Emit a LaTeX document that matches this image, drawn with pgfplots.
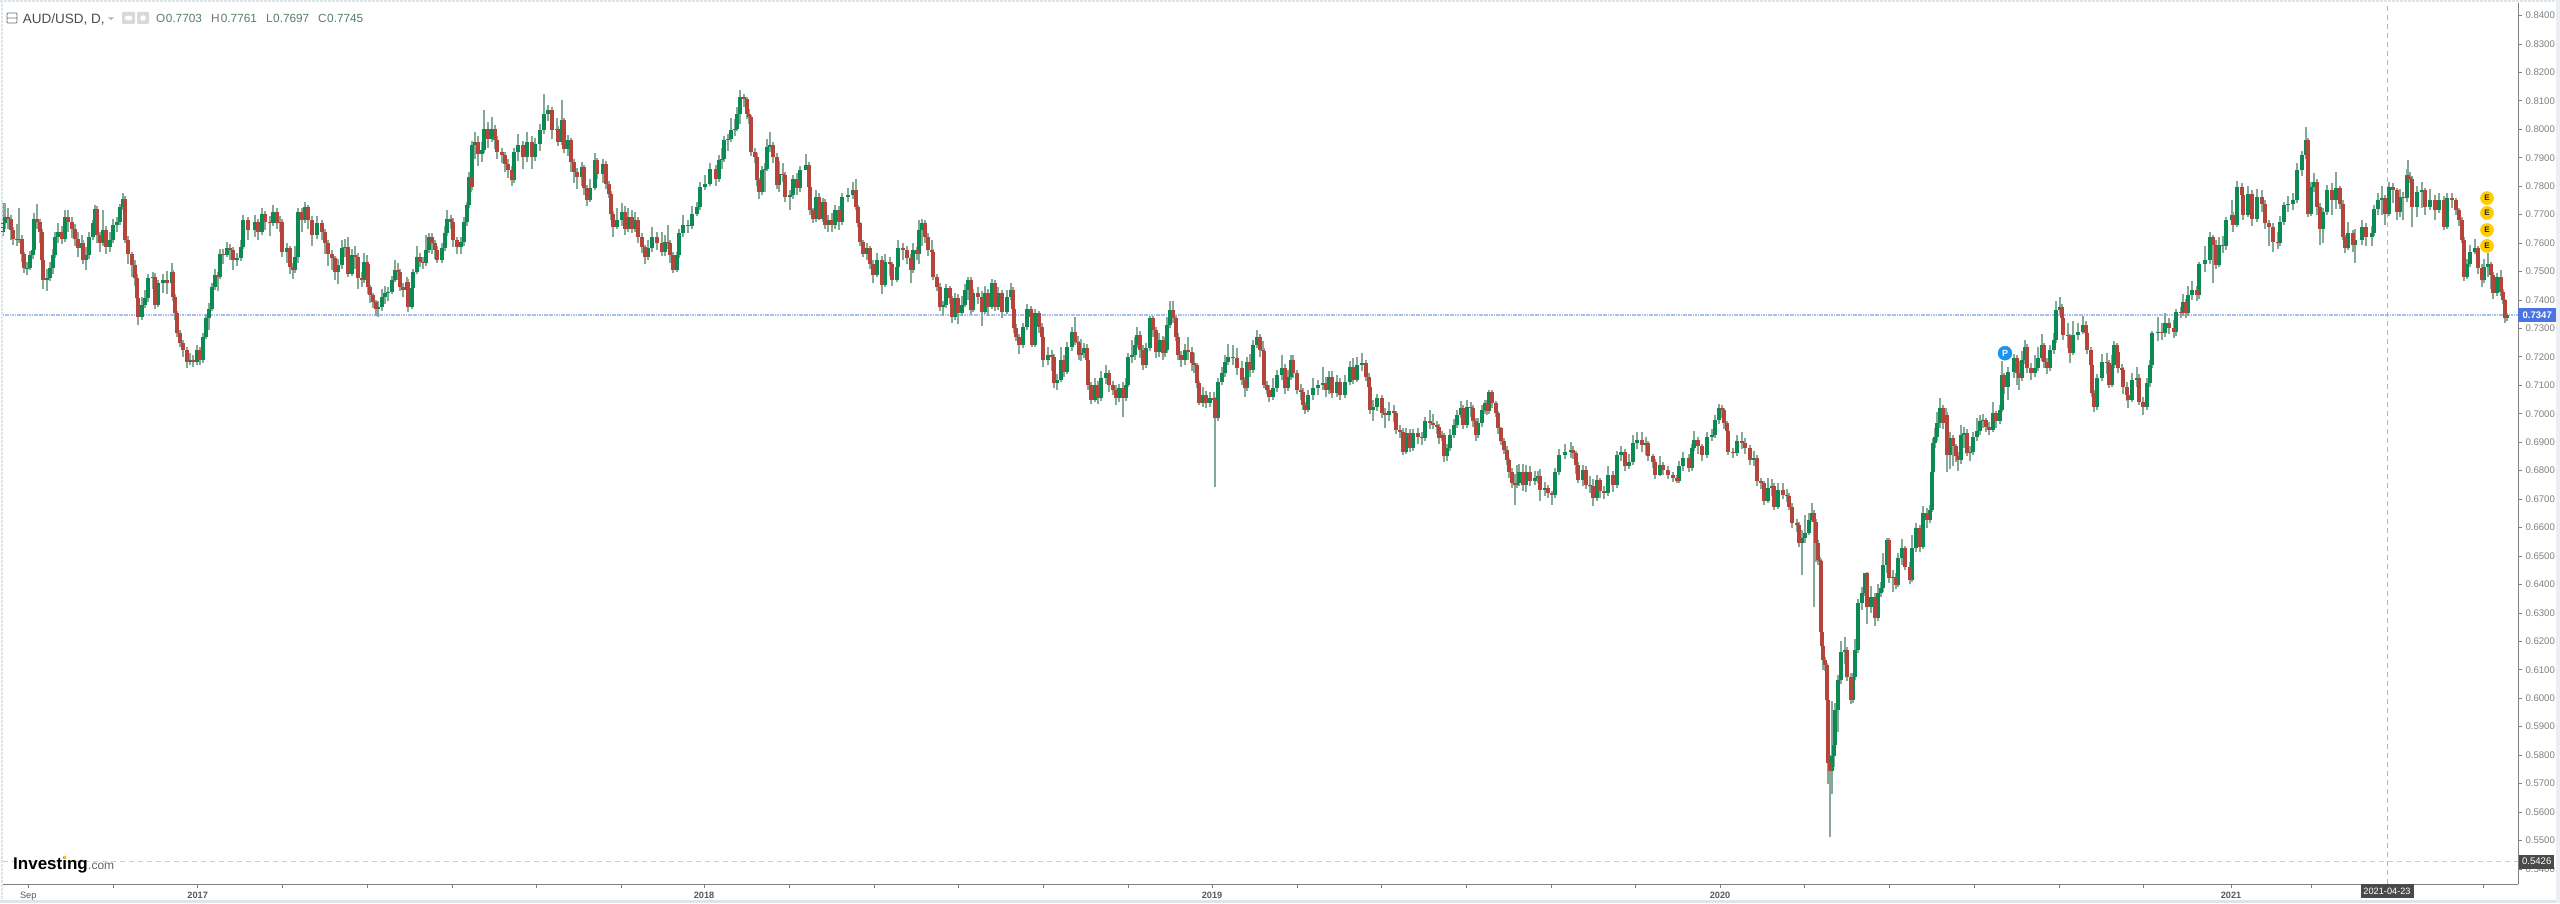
\documentclass[border=0pt]{standalone}
\usepackage{pgfplots}
\usepackage{pgfplotstable}
\pgfplotsset{compat=1.18}
\usepackage{fontspec}
\setmainfont{Liberation Sans}
\definecolor{upc}{HTML}{0B8A54}
\definecolor{dnc}{HTML}{B5443A}
\definecolor{wickc}{HTML}{86A896}
\definecolor{tickg}{HTML}{808080}
\definecolor{axg}{HTML}{808080}
\definecolor{lastb}{HTML}{4A74E2}
\definecolor{lastl}{HTML}{A9BFF0}
\definecolor{crossl}{HTML}{B4B4B4}
\definecolor{crossp}{HTML}{D6C6CE}
\definecolor{boxd}{HTML}{4A4A4A}
\definecolor{valg}{HTML}{4F8068}
\definecolor{frame}{HTML}{DDE4EA}
\definecolor{evt}{HTML}{FFCC00}
\definecolor{pin}{HTML}{1A94F0}
\pgfplotstableread{
x o c h l
3 .7640 .7669 .7740 .7625
5 .7669 .7692 .7740 .7650
8 .7692 .7686 .7722 .7650
11 .7686 .7645 .7700 .7612
13 .7645 .7616 .7655 .7592
17 .7616 .7613 .7668 .7590
19 .7613 .7616 .7722 .7600
22 .7616 .7563 .7628 .7532
24 .7563 .7511 .7570 .7495
27 .7511 .7514 .7532 .7488
30 .7514 .7558 .7572 .7505
33 .7558 .7575 .7610 .7545
34 .7575 .7686 .7706 .7570
37 .7686 .7675 .7737 .7650
40 .7675 .7640 .7685 .7600
42 .7640 .7540 .7650 .7472
43 .7540 .7470 .7560 .7440
47 .7470 .7476 .7510 .7432
50 .7476 .7511 .7535 .7466
53 .7511 .7558 .7580 .7490
55 .7558 .7622 .7640 .7548
58 .7622 .7640 .7672 .7600
62 .7640 .7616 .7660 .7596
65 .7616 .7692 .7715 .7605
68 .7692 .7675 .7716 .7640
72 .7675 .7651 .7690 .7618
75 .7651 .7616 .7668 .7590
78 .7616 .7581 .7640 .7550
82 .7581 .7599 .7628 .7566
83 .7599 .7540 .7612 .7525
86 .7540 .7558 .7585 .7505
89 .7558 .7622 .7640 .7545
93 .7622 .7669 .7680 .7612
95 .7669 .7721 .7733 .7660
97 .7721 .7628 .7730 .7600
100 .7628 .7599 .7640 .7570
103 .7599 .7645 .7716 .7590
106 .7645 .7587 .7660 .7562
110 .7587 .7610 .7640 .7570
113 .7610 .7663 .7685 .7600
117 .7663 .7675 .7690 .7640
120 .7675 .7727 .7738 .7665
123 .7727 .7756 .7776 .7716
125 .7756 .7610 .7765 .7600
128 .7610 .7563 .7625 .7525
132 .7563 .7522 .7570 .7480
135 .7522 .7476 .7540 .7450
137 .7476 .7406 .7490 .7392
138 .7406 .7341 .7415 .7312
142 .7341 .7382 .7410 .7330
145 .7382 .7406 .7435 .7372
148 .7406 .7476 .7490 .7392
153 .7476 .7482 .7500 .7440
155 .7482 .7382 .7495 .7370
158 .7382 .7458 .7470 .7374
163 .7458 .7470 .7492 .7425
167 .7470 .7458 .7502 .7420
172 .7458 .7499 .7530 .7435
173 .7499 .7411 .7505 .7395
175 .7411 .7353 .7420 .7330
177 .7353 .7283 .7362 .7270
180 .7283 .7248 .7295 .7235
183 .7248 .7224 .7260 .7200
187 .7224 .7183 .7235 .7160
190 .7183 .7189 .7215 .7170
193 .7189 .7183 .7205 .7165
197 .7183 .7224 .7240 .7170
200 .7224 .7189 .7235 .7172
203 .7189 .7271 .7285 .7180
206 .7271 .7335 .7352 .7262
209 .7335 .7370 .7388 .7295
212 .7370 .7446 .7460 .7360
215 .7446 .7487 .7510 .7436
218 .7487 .7482 .7500 .7432
220 .7482 .7563 .7578 .7472
223 .7563 .7558 .7580 .7525
227 .7558 .7581 .7605 .7550
230 .7581 .7575 .7596 .7540
233 .7575 .7540 .7585 .7505
237 .7540 .7546 .7565 .7520
241 .7546 .7587 .7610 .7536
243 .7587 .7680 .7700 .7580
248 .7680 .7645 .7690 .7610
255 .7645 .7675 .7698 .7622
258 .7675 .7640 .7685 .7612
262 .7640 .7704 .7722 .7630
265 .7704 .7675 .7712 .7645
270 .7675 .7670 .7695 .7625
273 .7670 .7710 .7735 .7660
277 .7710 .7669 .7722 .7650
280 .7669 .7675 .7695 .7640
282 .7675 .7569 .7685 .7550
287 .7569 .7581 .7600 .7530
290 .7581 .7517 .7590 .7490
293 .7517 .7505 .7530 .7475
295 .7505 .7552 .7590 .7495
298 .7552 .7710 .7722 .7530
302 .7710 .7680 .7722 .7640
305 .7680 .7727 .7745 .7670
308 .7727 .7680 .7735 .7650
312 .7680 .7628 .7695 .7590
317 .7628 .7669 .7695 .7615
322 .7669 .7640 .7680 .7610
325 .7640 .7599 .7650 .7560
328 .7599 .7563 .7612 .7520
332 .7563 .7546 .7575 .7505
335 .7546 .7499 .7555 .7470
338 .7499 .7522 .7545 .7455
342 .7522 .7581 .7610 .7510
345 .7581 .7585 .7615 .7550
348 .7585 .7493 .7620 .7480
352 .7493 .7558 .7580 .7485
355 .7558 .7552 .7590 .7510
358 .7552 .7476 .7565 .7440
362 .7476 .7470 .7500 .7445
364 .7470 .7534 .7565 .7460
367 .7534 .7528 .7558 .7500
368 .7528 .7446 .7535 .7420
370 .7446 .7417 .7452 .7390
373 .7417 .7394 .7425 .7372
376 .7394 .7370 .7400 .7345
378 .7370 .7375 .7395 .7340
382 .7375 .7411 .7440 .7360
385 .7411 .7423 .7450 .7385
388 .7423 .7429 .7445 .7395
392 .7429 .7470 .7485 .7420
395 .7470 .7505 .7540 .7462
398 .7505 .7499 .7530 .7470
400 .7499 .7446 .7510 .7430
403 .7446 .7435 .7460 .7410
407 .7435 .7464 .7480 .7400
408 .7464 .7376 .7475 .7358
412 .7376 .7441 .7460 .7368
413 .7441 .7499 .7510 .7432
417 .7499 .7552 .7590 .7490
420 .7552 .7534 .7565 .7515
423 .7534 .7530 .7552 .7510
426 .7530 .7575 .7628 .7520
429 .7575 .7622 .7635 .7565
432 .7622 .7599 .7635 .7560
435 .7599 .7575 .7610 .7545
437 .7575 .7540 .7590 .7530
442 .7540 .7581 .7600 .7530
445 .7581 .7634 .7660 .7572
447 .7634 .7686 .7715 .7625
451 .7686 .7675 .7700 .7650
453 .7675 .7610 .7688 .7585
457 .7610 .7587 .7622 .7560
461 .7587 .7604 .7620 .7560
464 .7604 .7675 .7690 .7590
467 .7675 .7733 .7745 .7660
469 .7733 .7833 .7850 .7725
471 .7833 .7797 .7848 .7780
472 .7797 .7944 .7960 .7785
475 .7944 .7955 .7990 .7895
478 .7955 .7914 .7975 .7870
482 .7914 .7926 .7955 .7885
484 .7926 .8002 .8069 .7915
488 .8002 .7967 .8025 .7935
492 .7967 .8002 .8043 .7955
495 .8002 .7961 .8015 .7930
497 .7961 .7920 .7975 .7895
502 .7920 .7909 .7935 .7880
505 .7909 .7879 .7920 .7850
508 .7879 .7856 .7895 .7830
512 .7856 .7821 .7870 .7800
514 .7821 .7920 .7935 .7810
518 .7920 .7944 .7985 .7890
523 .7944 .7903 .7960 .7860
527 .7903 .7955 .7990 .7885
532 .7955 .7903 .7975 .7860
535 .7903 .7950 .7970 .7890
540 .7950 .7996 .8020 .7925
544 .7996 .8055 .8125 .7985
548 .8055 .8067 .8085 .8030
552 .8067 .7996 .8078 .7965
557 .7996 .8002 .8040 .7960
558 .8002 .7955 .8010 .7940
562 .7955 .8031 .8102 .7945
564 .8031 .7932 .8040 .7915
568 .7932 .7961 .7980 .7905
571 .7961 .7885 .7970 .7850
574 .7885 .7850 .7895 .7810
577 .7850 .7833 .7865 .7790
582 .7833 .7868 .7885 .7800
584 .7868 .7792 .7875 .7770
587 .7792 .7751 .7805 .7730
590 .7751 .7792 .7825 .7745
595 .7792 .7891 .7915 .7785
597 .7891 .7844 .7900 .7825
603 .7844 .7879 .7895 .7810
606 .7879 .7809 .7888 .7790
609 .7809 .7774 .7820 .7760
611 .7774 .7704 .7782 .7680
613 .7704 .7657 .7712 .7620
617 .7657 .7680 .7725 .7650
622 .7680 .7710 .7740 .7660
625 .7710 .7651 .7730 .7630
628 .7651 .7692 .7725 .7640
632 .7692 .7651 .7715 .7635
635 .7651 .7680 .7710 .7640
638 .7680 .7622 .7690 .7600
642 .7622 .7587 .7635 .7565
645 .7587 .7552 .7595 .7525
648 .7552 .7581 .7610 .7540
652 .7581 .7622 .7655 .7570
657 .7622 .7599 .7640 .7575
662 .7599 .7569 .7640 .7555
665 .7569 .7604 .7630 .7555
668 .7604 .7599 .7665 .7580
670 .7599 .7558 .7610 .7530
673 .7558 .7505 .7570 .7495
677 .7505 .7558 .7570 .7498
679 .7558 .7634 .7650 .7548
683 .7634 .7663 .7700 .7620
688 .7663 .7659 .7680 .7635
692 .7659 .7704 .7730 .7650
697 .7704 .7727 .7745 .7695
700 .7727 .7797 .7815 .7715
705 .7797 .7809 .7840 .7785
710 .7809 .7862 .7880 .7800
716 .7862 .7827 .7875 .7800
719 .7827 .7891 .7910 .7815
722 .7891 .7897 .7935 .7860
724 .7897 .7961 .7975 .7885
728 .7961 .7967 .7985 .7925
731 .7967 .7996 .8040 .7955
735 .7996 .8002 .8035 .7975
737 .8002 .8055 .8080 .7995
740 .8055 .8113 .8137 .8020
744 .8113 .8108 .8125 .8080
747 .8108 .8055 .8115 .8035
749 .8055 .8043 .8070 .8020
751 .8043 .7920 .8050 .7905
755 .7920 .7903 .7935 .7880
757 .7903 .7821 .7915 .7800
759 .7821 .7780 .7830 .7755
762 .7780 .7856 .7870 .7770
765 .7856 .7862 .7880 .7780
767 .7862 .7938 .7965 .7855
770 .7938 .7944 .7990 .7920
773 .7944 .7903 .7955 .7880
777 .7903 .7803 .7915 .7790
779 .7803 .7844 .7890 .7780
783 .7844 .7840 .7880 .7815
785 .7840 .7762 .7850 .7745
790 .7762 .7768 .7785 .7715
793 .7768 .7827 .7840 .7755
797 .7827 .7792 .7845 .7770
800 .7792 .7856 .7872 .7780
806 .7856 .7874 .7914 .7860
809 .7874 .7797 .7885 .7780
810 .7797 .7716 .7805 .7700
813 .7716 .7686 .7725 .7672
816 .7686 .7762 .7785 .7675
819 .7762 .7686 .7775 .7680
823 .7686 .7745 .7760 .7675
825 .7745 .7663 .7755 .7650
828 .7663 .7680 .7700 .7640
832 .7680 .7663 .7705 .7640
835 .7663 .7716 .7735 .7650
839 .7716 .7675 .7730 .7645
842 .7675 .7762 .7775 .7665
848 .7762 .7768 .7795 .7745
853 .7768 .7786 .7815 .7755
856 .7786 .7727 .7825 .7715
858 .7727 .7669 .7735 .7655
860 .7669 .7604 .7675 .7590
863 .7604 .7563 .7610 .7550
867 .7563 .7581 .7600 .7540
870 .7581 .7528 .7590 .7510
873 .7528 .7487 .7540 .7460
877 .7487 .7540 .7565 .7480
882 .7540 .7452 .7555 .7420
885 .7452 .7534 .7560 .7445
890 .7534 .7528 .7550 .7485
892 .7528 .7470 .7535 .7450
897 .7470 .7517 .7535 .7462
898 .7517 .7581 .7610 .7510
903 .7581 .7575 .7600 .7540
907 .7575 .7546 .7590 .7525
911 .7546 .7505 .7560 .7460
913 .7505 .7575 .7600 .7495
917 .7575 .7563 .7585 .7540
919 .7563 .7645 .7680 .7525
922 .7645 .7669 .7685 .7590
925 .7669 .7622 .7680 .7600
928 .7622 .7575 .7635 .7555
932 .7575 .7570 .7610 .7540
933 .7570 .7482 .7580 .7470
937 .7482 .7446 .7490 .7430
940 .7446 .7376 .7460 .7360
943 .7376 .7381 .7398 .7345
946 .7381 .7441 .7455 .7372
950 .7441 .7406 .7450 .7385
952 .7406 .7341 .7415 .7320
955 .7341 .7406 .7425 .7330
958 .7406 .7353 .7420 .7315
962 .7353 .7382 .7415 .7345
965 .7382 .7435 .7455 .7375
968 .7435 .7470 .7480 .7400
971 .7470 .7365 .7480 .7350
973 .7365 .7423 .7440 .7358
978 .7423 .7411 .7445 .7385
982 .7411 .7359 .7430 .7310
985 .7359 .7423 .7450 .7350
988 .7423 .7376 .7440 .7345
992 .7376 .7458 .7475 .7368
995 .7458 .7376 .7470 .7360
998 .7376 .7423 .7445 .7365
1002 .7423 .7359 .7435 .7335
1007 .7359 .7411 .7435 .7350
1011 .7411 .7435 .7458 .7400
1013 .7435 .7370 .7445 .7355
1014 .7370 .7300 .7378 .7285
1016 .7300 .7271 .7315 .7255
1019 .7271 .7242 .7282 .7210
1023 .7242 .7306 .7320 .7232
1027 .7306 .7370 .7385 .7295
1031 .7370 .7341 .7378 .7315
1032 .7341 .7242 .7350 .7235
1035 .7242 .7353 .7368 .7235
1039 .7353 .7306 .7362 .7285
1042 .7306 .7271 .7320 .7250
1043 .7271 .7189 .7280 .7165
1048 .7189 .7207 .7235 .7170
1052 .7207 .7201 .7225 .7150
1054 .7201 .7107 .7210 .7090
1057 .7107 .7119 .7140 .7085
1061 .7119 .7189 .7235 .7110
1064 .7189 .7148 .7205 .7130
1067 .7148 .7236 .7252 .7140
1072 .7236 .7289 .7305 .7220
1075 .7289 .7253 .7340 .7240
1078 .7253 .7248 .7275 .7215
1079 .7248 .7207 .7255 .7190
1081 .7207 .7215 .7262 .7185
1084 .7215 .7230 .7250 .7195
1087 .7230 .7189 .7245 .7170
1088 .7189 .7101 .7195 .7085
1091 .7101 .7049 .7110 .7035
1095 .7049 .7101 .7125 .7040
1098 .7101 .7055 .7115 .7035
1101 .7055 .7125 .7150 .7045
1106 .7125 .7142 .7170 .7105
1109 .7142 .7101 .7155 .7075
1113 .7101 .7084 .7115 .7065
1116 .7084 .7055 .7100 .7030
1119 .7055 .7090 .7105 .7040
1123 .7090 .7055 .7110 .6990
1126 .7055 .7101 .7125 .7045
1128 .7101 .7201 .7215 .7095
1132 .7201 .7207 .7260 .7180
1135 .7207 .7242 .7270 .7190
1137 .7242 .7277 .7305 .7230
1140 .7277 .7224 .7290 .7195
1143 .7224 .7171 .7240 .7155
1146 .7171 .7230 .7250 .7160
1150 .7230 .7335 .7345 .7220
1153 .7335 .7294 .7345 .7270
1156 .7294 .7218 .7305 .7195
1159 .7218 .7259 .7285 .7200
1163 .7259 .7212 .7275 .7190
1165 .7212 .7224 .7270 .7200
1167 .7224 .7312 .7340 .7215
1170 .7312 .7365 .7397 .7300
1173 .7365 .7335 .7397 .7320
1176 .7335 .7271 .7345 .7255
1178 .7271 .7207 .7285 .7190
1181 .7207 .7189 .7220 .7165
1185 .7189 .7224 .7245 .7170
1188 .7224 .7218 .7270 .7190
1192 .7218 .7177 .7235 .7150
1194 .7177 .7172 .7215 .7145
1197 .7172 .7107 .7180 .7090
1199 .7107 .7037 .7115 .7030
1203 .7037 .7066 .7095 .7025
1206 .7066 .7037 .7080 .7020
1210 .7037 .7055 .7075 .7025
1214 .7055 .7050 .7075 .6985
1215 .7050 .6984 .7060 .6744
1218 .6984 .7113 .7125 .6975
1222 .7113 .7142 .7165 .7100
1225 .7142 .7183 .7205 .7130
1228 .7183 .7201 .7245 .7170
1233 .7201 .7196 .7240 .7170
1237 .7196 .7160 .7230 .7135
1242 .7160 .7119 .7185 .7100
1245 .7119 .7090 .7130 .7060
1247 .7090 .7183 .7200 .7080
1250 .7183 .7154 .7210 .7130
1253 .7154 .7242 .7260 .7145
1257 .7242 .7271 .7295 .7230
1260 .7271 .7224 .7280 .7200
1263 .7224 .7220 .7255 .7200
1264 .7220 .7101 .7230 .7090
1267 .7101 .7084 .7115 .7070
1269 .7084 .7060 .7100 .7040
1273 .7060 .7090 .7125 .7050
1277 .7090 .7136 .7155 .7075
1282 .7136 .7160 .7205 .7120
1285 .7160 .7090 .7175 .7070
1288 .7090 .7131 .7155 .7080
1291 .7131 .7189 .7205 .7120
1293 .7189 .7142 .7205 .7125
1297 .7142 .7084 .7155 .7070
1301 .7084 .7078 .7105 .7050
1303 .7078 .7031 .7090 .7015
1305 .7031 .7014 .7040 .7000
1308 .7014 .7066 .7085 .7005
1313 .7066 .7090 .7125 .7050
1318 .7090 .7101 .7120 .7065
1323 .7101 .7107 .7165 .7085
1326 .7107 .7084 .7130 .7060
1329 .7084 .7131 .7150 .7070
1332 .7131 .7072 .7150 .7055
1337 .7072 .7113 .7135 .7060
1340 .7113 .7066 .7125 .7050
1345 .7066 .7113 .7135 .7055
1350 .7113 .7166 .7185 .7100
1353 .7166 .7119 .7195 .7105
1357 .7119 .7171 .7200 .7110
1362 .7171 .7177 .7215 .7150
1366 .7177 .7131 .7190 .7115
1369 .7131 .7095 .7145 .7065
1370 .7095 .7014 .7105 .7000
1373 .7014 .7025 .7050 .6975
1377 .7025 .7055 .7070 .7010
1382 .7055 .7002 .7065 .6985
1385 .7002 .6996 .7020 .6950
1389 .6996 .7008 .7040 .6975
1394 .7008 .7002 .7030 .6970
1396 .7002 .6943 .7010 .6930
1400 .6943 .6937 .6960 .6915
1403 .6937 .6867 .6950 .6855
1406 .6867 .6932 .6950 .6860
1410 .6932 .6879 .6945 .6865
1413 .6879 .6932 .6945 .6870
1418 .6932 .6920 .6950 .6895
1422 .6920 .6915 .6935 .6890
1425 .6915 .6973 .6990 .6905
1430 .6973 .6968 .7015 .6945
1433 .6968 .6962 .7000 .6945
1437 .6962 .6955 .6975 .6930
1439 .6955 .6914 .6965 .6895
1442 .6914 .6924 .6940 .6905
1444 .6924 .6850 .6932 .6830
1447 .6850 .6879 .6895 .6835
1450 .6879 .6926 .6945 .6870
1454 .6926 .6961 .6980 .6915
1457 .6961 .6996 .7015 .6950
1461 .6996 .7020 .7045 .6985
1463 .7020 .6961 .7030 .6945
1467 .6961 .7025 .7050 .6950
1471 .7025 .7020 .7040 .6990
1473 .7020 .6973 .7032 .6955
1476 .6973 .6926 .6985 .6905
1478 .6926 .6967 .6985 .6915
1482 .6967 .7014 .7030 .6955
1485 .7014 .7037 .7050 .7000
1487 .7037 .7008 .7050 .6995
1489 .7008 .7078 .7085 .7000
1492 .7078 .7037 .7085 .7020
1496 .7037 .7002 .7045 .6990
1498 .7002 .6949 .7010 .6930
1501 .6949 .6903 .6955 .6890
1504 .6903 .6873 .6915 .6860
1507 .6873 .6838 .6885 .6820
1509 .6838 .6797 .6845 .6775
1512 .6797 .6756 .6810 .6740
1515 .6756 .6750 .6790 .6680
1517 .6750 .6755 .6820 .6740
1519 .6755 .6797 .6825 .6745
1523 .6797 .6750 .6825 .6730
1526 .6750 .6797 .6820 .6725
1530 .6797 .6762 .6815 .6745
1535 .6762 .6774 .6800 .6750
1538 .6774 .6780 .6800 .6755
1540 .6780 .6733 .6805 .6692
1545 .6733 .6738 .6760 .6710
1548 .6738 .6721 .6750 .6705
1552 .6721 .6715 .6730 .6680
1555 .6715 .6797 .6810 .6705
1559 .6797 .6856 .6875 .6785
1565 .6856 .6867 .6895 .6840
1571 .6867 .6873 .6900 .6845
1573 .6873 .6862 .6885 .6840
1576 .6862 .6821 .6870 .6790
1578 .6821 .6768 .6830 .6755
1583 .6768 .6803 .6820 .6745
1586 .6803 .6750 .6815 .6735
1590 .6750 .6745 .6780 .6720
1593 .6745 .6704 .6770 .6675
1597 .6704 .6768 .6785 .6695
1600 .6768 .6727 .6775 .6705
1604 .6727 .6722 .6745 .6700
1608 .6722 .6786 .6815 .6710
1613 .6786 .6750 .6800 .6725
1617 .6750 .6856 .6870 .6740
1621 .6856 .6867 .6885 .6835
1625 .6867 .6815 .6875 .6800
1629 .6815 .6832 .6860 .6805
1633 .6832 .6897 .6925 .6820
1637 .6897 .6908 .6935 .6875
1642 .6908 .6891 .6935 .6865
1646 .6891 .6897 .6920 .6855
1648 .6897 .6850 .6905 .6835
1653 .6850 .6832 .6860 .6810
1655 .6832 .6786 .6840 .6770
1660 .6786 .6821 .6850 .6780
1663 .6821 .6803 .6830 .6785
1668 .6803 .6786 .6815 .6770
1673 .6786 .6774 .6795 .6760
1677 .6774 .6762 .6785 .6755
1679 .6762 .6815 .6835 .6755
1683 .6815 .6844 .6865 .6800
1689 .6844 .6809 .6860 .6795
1692 .6809 .6879 .6895 .6800
1694 .6879 .6908 .6940 .6870
1698 .6908 .6885 .6920 .6860
1702 .6885 .6856 .6895 .6835
1707 .6856 .6920 .6935 .6845
1712 .6920 .6926 .6945 .6905
1715 .6926 .6979 .6995 .6915
1719 .6979 .7020 .7035 .6965
1722 .7020 .7014 .7030 .6985
1724 .7014 .6967 .7022 .6945
1727 .6967 .6938 .6975 .6915
1728 .6938 .6867 .6945 .6855
1733 .6867 .6861 .6880 .6845
1737 .6861 .6903 .6925 .6850
1742 .6903 .6898 .6935 .6875
1745 .6898 .6879 .6915 .6860
1750 .6879 .6838 .6890 .6820
1754 .6838 .6844 .6870 .6815
1757 .6844 .6762 .6855 .6745
1761 .6762 .6756 .6775 .6735
1764 .6756 .6692 .6765 .6680
1768 .6692 .6739 .6775 .6685
1772 .6739 .6745 .6770 .6710
1774 .6745 .6674 .6755 .6660
1778 .6674 .6733 .6755 .6665
1783 .6733 .6715 .6755 .6700
1787 .6715 .6710 .6735 .6690
1789 .6710 .6674 .6720 .6660
1792 .6674 .6616 .6685 .6600
1797 .6616 .6610 .6630 .6585
1799 .6610 .6546 .6620 .6530
1802 .6546 .6562 .6590 .6433
1805 .6562 .6580 .6645 .6545
1809 .6580 .6626 .6650 .6575
1812 .6626 .6650 .6685 .6620
1814 .6650 .6620 .6660 .6322
1816 .6620 .6544 .6630 .6480
1818 .6544 .6486 .6555 .6470
1820 .6486 .6482 .6495 .6350
1821 .6482 .6234 .6490 .6215
1822 .6234 .6182 .6320 .6165
1823 .6182 .6135 .6195 .6100
1825 .6135 .6117 .6145 .6095
1827 .6117 .5994 .6125 .5965
1828 .5994 .5772 .6000 .5700
1830 .5772 .5743 .5800 .5513
1832 .5743 .5796 .5990 .5665
1834 .5796 .5837 .5850 .5760
1835 .5837 .5959 .5985 .5830
1838 .5959 .6065 .6080 .5880
1841 .6065 .6164 .6200 .6050
1845 .6164 .6170 .6215 .6120
1847 .6170 .6076 .6180 .6060
1851 .6076 .5994 .6090 .5980
1853 .5994 .6076 .6090 .5985
1855 .6076 .6170 .6210 .6065
1858 .6170 .6334 .6350 .6160
1862 .6334 .6369 .6390 .6310
1865 .6369 .6439 .6442 .6360
1867 .6439 .6322 .6445 .6260
1871 .6322 .6357 .6395 .6300
1875 .6357 .6281 .6370 .6255
1878 .6281 .6369 .6400 .6270
1881 .6369 .6386 .6410 .6355
1883 .6386 .6468 .6510 .6375
1887 .6468 .6556 .6565 .6440
1889 .6556 .6422 .6565 .6405
1893 .6422 .6427 .6450 .6375
1896 .6427 .6398 .6440 .6385
1898 .6398 .6492 .6510 .6390
1902 .6492 .6527 .6560 .6470
1905 .6527 .6463 .6535 .6450
1910 .6463 .6416 .6480 .6400
1912 .6416 .6527 .6575 .6410
1916 .6527 .6597 .6615 .6515
1920 .6597 .6533 .6610 .6515
1923 .6533 .6650 .6675 .6525
1927 .6650 .6626 .6670 .6600
1930 .6626 .6661 .6680 .6615
1932 .6661 .6796 .6810 .6655
1933 .6796 .6897 .6915 .6785
1935 .6897 .6920 .6950 .6880
1937 .6920 .6967 .7005 .6905
1940 .6967 .7019 .7055 .6950
1943 .7019 .6967 .7030 .6945
1946 .6967 .6996 .7020 .6940
1947 .6996 .6856 .7005 .6795
1950 .6856 .6914 .6935 .6805
1953 .6914 .6885 .6925 .6815
1956 .6885 .6850 .6895 .6830
1958 .6850 .6838 .6865 .6800
1961 .6838 .6926 .6960 .6825
1964 .6926 .6932 .6955 .6880
1967 .6932 .6861 .6945 .6850
1970 .6861 .6867 .6885 .6835
1973 .6867 .6920 .6935 .6855
1977 .6920 .6938 .6985 .6905
1980 .6938 .6973 .6995 .6925
1983 .6973 .6978 .7000 .6950
1986 .6978 .6955 .6985 .6935
1989 .6955 .6943 .6970 .6925
1993 .6943 .7002 .7040 .6935
1996 .7002 .6973 .7010 .6950
2000 .6973 .7014 .7030 .6965
2002 .7014 .7136 .7185 .7005
2004 .7136 .7095 .7145 .7070
2008 .7095 .7148 .7165 .7050
2014 .7148 .7195 .7210 .7125
2017 .7195 .7142 .7205 .7100
2019 .7142 .7125 .7185 .7085
2022 .7125 .7189 .7220 .7115
2025 .7189 .7236 .7260 .7175
2027 .7236 .7160 .7245 .7145
2031 .7160 .7142 .7180 .7120
2035 .7142 .7160 .7205 .7130
2038 .7160 .7195 .7235 .7150
2042 .7195 .7242 .7280 .7185
2044 .7242 .7183 .7250 .7160
2047 .7183 .7160 .7195 .7140
2050 .7160 .7224 .7240 .7150
2054 .7224 .7259 .7285 .7210
2056 .7259 .7365 .7395 .7250
2060 .7365 .7376 .7410 .7350
2062 .7376 .7335 .7385 .7300
2063 .7335 .7277 .7342 .7260
2068 .7277 .7272 .7320 .7230
2070 .7272 .7212 .7280 .7180
2073 .7212 .7277 .7325 .7205
2078 .7277 .7288 .7320 .7260
2083 .7288 .7312 .7345 .7280
2086 .7312 .7283 .7325 .7270
2087 .7283 .7224 .7292 .7210
2091 .7224 .7172 .7235 .7155
2092 .7172 .7072 .7180 .7060
2094 .7072 .7025 .7085 .7005
2097 .7025 .7125 .7140 .7015
2102 .7125 .7183 .7210 .7115
2107 .7183 .7177 .7215 .7140
2109 .7177 .7101 .7190 .7090
2112 .7101 .7172 .7205 .7095
2114 .7172 .7242 .7255 .7160
2117 .7242 .7218 .7250 .7200
2118 .7218 .7160 .7225 .7145
2122 .7160 .7155 .7175 .7130
2123 .7155 .7095 .7165 .7070
2127 .7095 .7066 .7110 .7045
2128 .7066 .7049 .7080 .7020
2132 .7049 .7119 .7145 .7040
2137 .7119 .7125 .7165 .7095
2139 .7125 .7043 .7140 .7030
2143 .7043 .7025 .7060 .6995
2147 .7025 .7107 .7125 .7015
2150 .7107 .7172 .7190 .7095
2152 .7172 .7283 .7290 .7160
2158 .7283 .7288 .7340 .7255
2162 .7288 .7283 .7320 .7260
2165 .7283 .7318 .7355 .7270
2169 .7318 .7300 .7335 .7280
2174 .7300 .7289 .7330 .7265
2176 .7289 .7359 .7370 .7275
2181 .7359 .7354 .7375 .7335
2183 .7354 .7394 .7420 .7345
2186 .7394 .7353 .7405 .7335
2188 .7353 .7417 .7450 .7345
2192 .7417 .7435 .7465 .7400
2197 .7435 .7417 .7450 .7395
2199 .7417 .7528 .7535 .7405
2205 .7528 .7540 .7590 .7500
2210 .7540 .7622 .7640 .7525
2213 .7622 .7593 .7630 .7460
2216 .7593 .7523 .7610 .7510
2219 .7523 .7593 .7620 .7515
2223 .7593 .7588 .7625 .7565
2226 .7588 .7680 .7690 .7575
2232 .7680 .7698 .7750 .7670
2233 .7698 .7663 .7710 .7640
2237 .7663 .7797 .7820 .7655
2242 .7797 .7768 .7810 .7740
2243 .7768 .7698 .7775 .7680
2248 .7698 .7774 .7800 .7690
2252 .7774 .7686 .7785 .7660
2257 .7686 .7762 .7790 .7675
2262 .7762 .7739 .7785 .7710
2265 .7739 .7669 .7750 .7650
2269 .7669 .7657 .7680 .7590
2273 .7657 .7604 .7670 .7570
2278 .7604 .7599 .7640 .7580
2280 .7599 .7675 .7695 .7590
2284 .7675 .7733 .7745 .7665
2288 .7733 .7739 .7765 .7710
2293 .7739 .7751 .7775 .7715
2297 .7751 .7856 .7880 .7740
2302 .7856 .7909 .7925 .7835
2306 .7909 .7961 .8008 .7895
2308 .7961 .7704 .7970 .7690
2311 .7704 .7797 .7815 .7695
2314 .7797 .7815 .7845 .7780
2317 .7815 .7727 .7825 .7700
2320 .7727 .7651 .7740 .7595
2323 .7651 .7710 .7725 .7600
2327 .7710 .7786 .7805 .7700
2332 .7786 .7751 .7810 .7700
2336 .7751 .7792 .7850 .7720
2340 .7792 .7739 .7800 .7720
2343 .7739 .7622 .7750 .7610
2345 .7622 .7581 .7630 .7565
2348 .7581 .7634 .7675 .7575
2353 .7634 .7593 .7645 .7570
2355 .7593 .7610 .7650 .7531
2362 .7610 .7657 .7680 .7595
2366 .7657 .7622 .7670 .7590
2372 .7622 .7634 .7660 .7590
2374 .7634 .7721 .7735 .7625
2378 .7721 .7751 .7775 .7700
2382 .7751 .7757 .7800 .7700
2385 .7757 .7704 .7770 .7665
2389 .7704 .7797 .7815 .7695
2393 .7797 .7786 .7810 .7740
2397 .7786 .7710 .7795 .7680
2400 .7710 .7762 .7790 .7690
2403 .7762 .7757 .7780 .7680
2407 .7757 .7838 .7860 .7745
2408 .7838 .7833 .7891 .7815
2410 .7833 .7825 .7850 .7810
2412 .7825 .7727 .7835 .7655
2417 .7727 .7780 .7800 .7690
2422 .7780 .7786 .7815 .7725
2425 .7786 .7727 .7795 .7700
2430 .7727 .7751 .7790 .7715
2435 .7751 .7716 .7770 .7680
2439 .7716 .7751 .7775 .7705
2444 .7751 .7657 .7765 .7645
2447 .7657 .7757 .7775 .7650
2452 .7757 .7751 .7775 .7725
2456 .7751 .7716 .7760 .7700
2459 .7716 .7680 .7725 .7660
2462 .7680 .7610 .7690 .7600
2464 .7610 .7482 .7620 .7465
2467 .7482 .7528 .7545 .7475
2470 .7528 .7569 .7595 .7515
2475 .7569 .7581 .7615 .7560
2478 .7581 .7511 .7590 .7490
2482 .7511 .7470 .7525 .7445
2484 .7470 .7517 .7545 .7460
2488 .7517 .7528 .7564 .7480
2491 .7528 .7487 .7535 .7440
2493 .7487 .7423 .7500 .7405
2497 .7423 .7482 .7495 .7415
2501 .7482 .7429 .7505 .7415
2503 .7429 .7400 .7440 .7385
2505 .7400 .7335 .7405 .7320
2507 .7335 .7347 .7355 .7325
}\data
\begin{document}
\begin{tikzpicture}[x=1pt,y=1pt]
\useasboundingbox (0,0) rectangle (2560,903);
\fill[white] (0,0) rectangle (2560,903);
\begin{axis}[
 at={(3pt,19pt)},anchor=south west,scale only axis,width=2515pt,height=881pt,
 xmin=3,xmax=2518,ymin=.5347,ymax=.8444,clip=false,
 axis x line*=bottom,axis y line*=right,
 axis line style={draw=axg,line width=0.9pt,-},
 xtick={28.2,113,197.7,282.5,367.2,452,536.7,621.5,704,789,874,958.5,1043,1128,1212,1297,1381,1466,1551,1635,1720,1804.5,1889,1974,2059,2143.5,2231,2311,2397,2483},
 xticklabels={Sep,,{\bfseries 2017},,,,,,{\bfseries 2018},,,,,,{\bfseries 2019},,,,,,{\bfseries 2020},,,,,,{\bfseries 2021},,,},
 ytick={.54,.55,.56,.57,.58,.59,.60,.61,.62,.63,.64,.65,.66,.67,.68,.69,.70,.71,.72,.73,.74,.75,.76,.77,.78,.79,.80,.81,.82,.83,.84},
 yticklabel style={/pgf/number format/fixed,/pgf/number format/fixed zerofill,/pgf/number format/precision=4,/pgf/number format/assume math mode=true,font=\fontsize{9.6}{10}\selectfont,text=tickg,anchor=west,xshift=0pt},
 xticklabel style={font=\fontsize{9.2}{10}\selectfont,text=black!65,yshift=-0.5pt},
 tick style={draw=axg,line width=0.8pt},major tick length=4pt,
 tick align=outside,
]
\addplot[draw=lastl,line width=1.6pt,dash pattern=on 1.2pt off 0.5pt,forget plot] coordinates {(3,.7347) (2518,.7347)};
\addplot[draw=crossl,line width=1pt,dash pattern=on 5pt off 4pt,forget plot] coordinates {(2387,.5347) (2387,.8444)};
\addplot[draw=crossp,line width=1pt,dash pattern=on 5pt off 4pt,forget plot] coordinates {(3,.5426) (2518,.5426)};
\addplot[draw=none,forget plot,error bars/.cd,y dir=plus,y explicit,error mark=none,error bar style={draw=wickc,line width=1.3pt}] table[x=x,y=l,y error plus expr=\thisrow{h}-\thisrow{l}]{\data};
\addplot[draw=none,forget plot,restrict expr to domain={\thisrow{c}-\thisrow{o}}{0:1},error bars/.cd,y dir=plus,y explicit,error mark=none,error bar style={draw=upc,line width=3.4pt}] table[x=x,y=o,y error plus expr=\thisrow{c}-\thisrow{o}]{\data};
\addplot[draw=none,forget plot,restrict expr to domain={\thisrow{o}-\thisrow{c}}{0:1},error bars/.cd,y dir=plus,y explicit,error mark=none,error bar style={draw=dnc,line width=3.4pt}] table[x=x,y=c,y error plus expr=\thisrow{o}-\thisrow{c}]{\data};
\addplot[only marks,mark=*,mark size=6.6pt,color=evt,mark options={draw=evt,fill=evt},forget plot,nodes near coords={\fontsize{8}{8}\selectfont\bfseries\color{black!85}E},nodes near coords align={anchor=center}] coordinates {(2487,.7758) (2487,.7706) (2487,.7646) (2487,.7590)};
\addplot[only marks,mark=*,mark size=7pt,color=pin,mark options={draw=pin,fill=pin},forget plot,nodes near coords={\fontsize{9}{9}\selectfont\bfseries\color{white}P},nodes near coords align={anchor=center}] coordinates {(2005,.7213)};
\node[fill=lastb,text=white,inner sep=0pt,minimum width=38pt,minimum height=14pt,anchor=west,font=\fontsize{9.6}{10}\selectfont\bfseries] at (axis cs:2518,.7347) {0.7347};
\node[fill=boxd,text=white,inner sep=0pt,minimum width=35pt,minimum height=14pt,anchor=west,font=\fontsize{9.6}{10}\selectfont] at (axis cs:2519,.5426) {0.5426};
\node[fill=boxd,text=white,inner sep=0pt,minimum width=53pt,minimum height=14pt,anchor=north,font=\fontsize{9.2}{10}\selectfont] at (axis cs:2387,.5347) {2021-04-23};
\end{axis}
\draw[frame,line width=2pt,dash pattern=on 3pt off 1pt] (2,0)--(2,903) (0,902)--(2560,902);
\fill[frame] (0,0) rectangle (2560,3);
\fill[frame!60] (2556,0) rectangle (2560,903);
% header
\draw[black!55,line width=0.9pt,rounded corners=1pt] (7,880) rectangle (17,890) (7,885)--(17,885);
\node[anchor=base west,inner sep=0pt,text=black!70,font=\fontsize{13.5}{14}\selectfont] at (22.7,879.5) {AUD/USD, D,};
\fill[black!30] (108,885.5) -- (114,885.5) -- (111,883) -- cycle;
\fill[black!15,rounded corners=1pt] (122,879) rectangle (135,891);
\fill[black!15,rounded corners=1pt] (137,879) rectangle (149,891);
\fill[white] (128.5,885) ellipse (4 and 2.4);
\fill[white] (143,885) circle (2.8);
\foreach \a/\b/\ax/\vx in {O/0.7703/156/165.7,H/0.7761/211/220.7,L/0.7697/266/273,C/0.7745/318/327}{
\node[anchor=base west,inner sep=0pt,text=black!55,font=\fontsize{11.8}{12}\selectfont] at (\ax,880) {\a};
\node[anchor=base west,inner sep=0pt,text=valg,font=\fontsize{11.8}{12}\selectfont] at (\vx,880) {\b};}
% logo
\node[anchor=base west,inner sep=0pt,text=black,font=\fontsize{17}{17}\selectfont\bfseries] at (13,34) {Investing};
\node[anchor=base west,inner sep=0pt,text=black!60,font=\fontsize{12}{12}\selectfont] at (88,34) {.com};
\fill[evt] (65,46) circle (1.6);
\end{tikzpicture}
\end{document}
